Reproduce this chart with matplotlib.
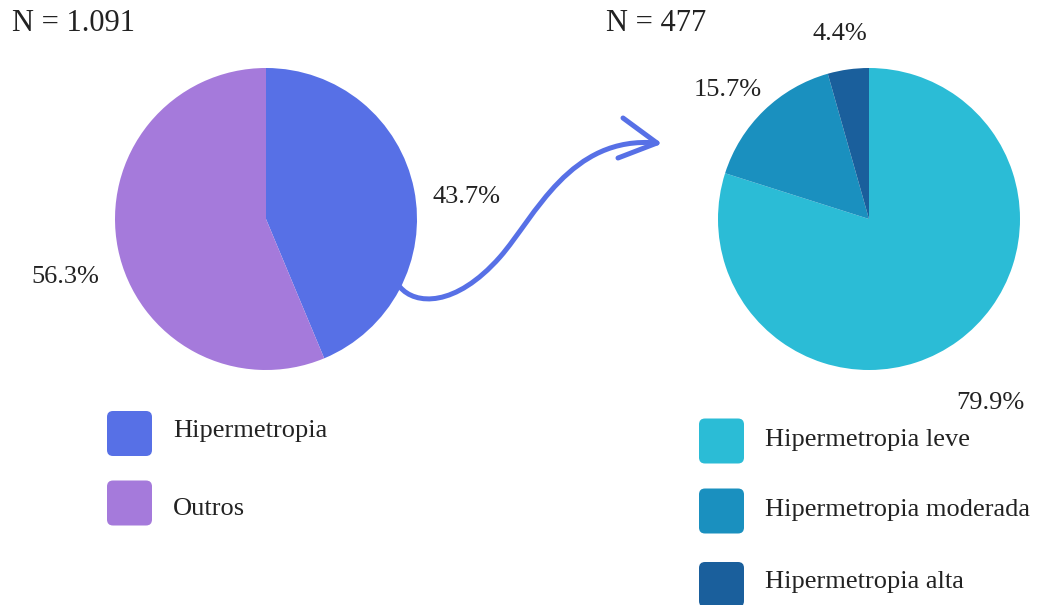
import numpy as np
import matplotlib
matplotlib.use("Agg")
import matplotlib.pyplot as plt
from matplotlib.patches import FancyBboxPatch, PathPatch
from matplotlib.path import Path

# data
left_labels = ["Hipermetropia", "Outros"]
left_values = [43.7, 56.3]
left_colors = ["#5770e6", "#a57adb"]
left_title = "N = 1.091"

right_labels = ["Hipermetropia leve", "Hipermetropia moderada", "Hipermetropia alta"]
right_values = [79.9, 15.7, 4.4]
right_colors = ["#2bbcd6", "#1a90bf", "#1a5f9c"]
right_title = "N = 477"

plt.rcParams["font.family"] = ["Liberation Serif", "DejaVu Serif"]
TXT = "#222222"
W, H = 1047, 605
R = 151  # pie radius in px

fig = plt.figure(figsize=(W / 100, H / 100), dpi=100)


def pie_axes(cx, cy):
    ax = fig.add_axes([(cx - R) / W, (H - cy - R) / H, 2 * R / W, 2 * R / H])
    ax.axis("off")
    return ax


def draw_pie(ax, values, colors, label_shift):
    # label_shift: (radial factor, angle offset in deg) for each outside label
    wedges, _ = ax.pie(values, colors=colors, startangle=90, counterclock=False,
                       radius=1, wedgeprops=dict(linewidth=0))
    ax.set_xlim(-1, 1)
    ax.set_ylim(-1, 1)
    for w, v, (d, da) in zip(wedges, values, label_shift):
        mid = np.deg2rad((w.theta1 + w.theta2) / 2 + da)
        ax.text(d * np.cos(mid), d * np.sin(mid) - 0.06, f"{v}%", ha="center",
                va="baseline", fontsize=19, color=TXT)


axl = pie_axes(266, 219)
draw_pie(axl, left_values, left_colors, [(1.34, -4.2), (1.38, 4.0)])
axr = pie_axes(869, 219)
draw_pie(axr, right_values, right_colors, [(1.44, -2.4), (1.28, 3.0), (1.26, 0.8)])

# overlay in pixel coords
ov = fig.add_axes([0, 0, 1, 1], zorder=5)
ov.set_xlim(0, W)
ov.set_ylim(H, 0)
ov.axis("off")
ov.patch.set_alpha(0)

ov.text(12, 31, left_title, fontsize=22, color=TXT, va="baseline", ha="left")
ov.text(606, 31, right_title, fontsize=22, color=TXT, va="baseline", ha="left")


def legend(x, ys, bases, labels, colors):
    for y, b, lab, c in zip(ys, bases, labels, colors):
        ov.add_patch(FancyBboxPatch((x + 5, y - 17), 35, 35,
                                    boxstyle="round,pad=5,rounding_size=6",
                                    fc=c, ec="none"))
        ov.text(x + 66, b, lab, fontsize=19, color=TXT, va="baseline", ha="left")


legend(107, [433, 502.5], [437, 515], left_labels, left_colors)
legend(699, [440.5, 510.5, 584], [446, 516, 588], right_labels, right_colors)

# arrow between the pies
arrow_c = "#5770e6"
verts = [(400, 287), (415, 305), (455, 308), (500, 257),
         (535, 217), (570, 135), (657, 143)]
codes = [Path.MOVETO] + [Path.CURVE4] * 6
ov.add_patch(PathPatch(Path(verts, codes), fc="none", ec=arrow_c, lw=3.6,
                       capstyle="round"))
ov.plot([623, 657, 618], [118, 143, 158], color=arrow_c, lw=3.6,
        solid_capstyle="round", solid_joinstyle="round")

fig.savefig("out.png", dpi=100)
